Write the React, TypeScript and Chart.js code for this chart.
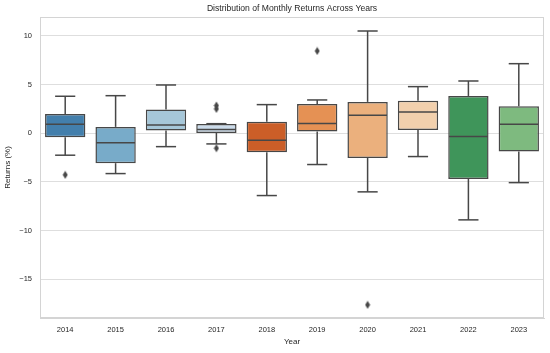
import React, { useEffect, useRef } from 'react';
import { Chart, registerables } from 'chart.js';

Chart.register(...registerables);

const years = ['2014', '2015', '2016', '2017', '2018', '2019', '2020', '2021', '2022', '2023'];
const q1 = [-0.41, -3.08, 0.27, 0.03, -1.95, 0.17, -2.54, 0.34, -4.7, -1.89];
const medians = [0.92, -0.97, 0.85, 0.37, -0.72, 0.99, 1.85, 2.19, -0.35, 0.92];
const q3 = [1.98, 0.65, 2.43, 0.96, 1.19, 3.01, 3.22, 3.35, 3.83, 2.77];
const whiskerLow = [-2.26, -4.15, -1.38, -1.1, -6.41, -3.22, -6.03, -2.4, -8.91, -5.08];
const whiskerHigh = [3.8, 3.86, 4.96, 0.98, 2.94, 3.42, 10.51, 4.79, 5.37, 7.15];
const outlierYears = ['2014', '2017', '2017', '2017', '2019', '2020'];
const outlierValues = [-4.28, 2.5, 2.85, -1.54, 8.46, -17.65];
const yTickValues = [-15, -10, -5, 0, 5, 10];
const chartTitle = 'Distribution of Monthly Returns Across Years';

const boxColors = [
  '#437fac', '#78abc9', '#a6c7d9', '#cbdbea', '#cb5e28',
  '#e59154', '#ebb07d', '#f2d0ad', '#3f955a', '#7eba7f',
];

const LINE = '#474747';
const FONT = "'Liberation Sans', Arial, sans-serif";
const TEXT = '#262626';

export default function App() {
  const ref = useRef<HTMLCanvasElement>(null);

  useEffect(() => {
    document.body.style.margin = '0';
    const canvas = ref.current;
    if (!canvas) return;

    const diamond = document.createElement('canvas');
    diamond.width = 6;
    diamond.height = 9;
    const dctx = diamond.getContext('2d')!;
    dctx.fillStyle = LINE;
    dctx.beginPath();
    dctx.moveTo(3, 0.5);
    dctx.lineTo(5.5, 4.5);
    dctx.lineTo(3, 8.5);
    dctx.lineTo(0.5, 4.5);
    dctx.closePath();
    dctx.fill();

    const frame = {
      id: 'frame',
      beforeDatasetsDraw(chart: any) {
        const { ctx, chartArea: a } = chart;
        ctx.save();
        ctx.strokeStyle = '#d4d4d4';
        ctx.lineWidth = 1;
        ctx.strokeRect(a.left + 0.5, a.top + 0.5, a.right - a.left - 1, a.bottom - a.top - 1);
        ctx.restore();
      },
      afterDraw(chart: any) {
        const { ctx, chartArea: a } = chart;
        ctx.save();
        ctx.fillStyle = TEXT;
        ctx.font = `8.6px ${FONT}`;
        ctx.textAlign = 'center';
        ctx.textBaseline = 'middle';
        ctx.fillText(chartTitle, (a.left + a.right) / 2, 9);
        ctx.restore();
      },
    };

    const whiskers = {
      id: 'whiskers',
      afterDatasetsDraw(chart: any) {
        const meta = chart.getDatasetMeta(0);
        const y = chart.scales.y;
        const ctx = chart.ctx;
        ctx.save();
        ctx.strokeStyle = LINE;
        ctx.lineWidth = 1.5;
        const seg = (x1: number, y1: number, x2: number, y2: number) => {
          ctx.beginPath();
          ctx.moveTo(x1, y1);
          ctx.lineTo(x2, y2);
          ctx.stroke();
        };
        meta.data.forEach((bar: any, i: number) => {
          const { x, width } = bar.getProps(['x', 'width'], true);
          const yMed = y.getPixelForValue(medians[i]);
          const yQ1 = y.getPixelForValue(q1[i]);
          const yQ3 = y.getPixelForValue(q3[i]);
          const yLo = y.getPixelForValue(whiskerLow[i]);
          const yHi = y.getPixelForValue(whiskerHigh[i]);
          seg(x - width / 2 + 0.75, yMed, x + width / 2 - 0.75, yMed);
          seg(x, yQ3, x, yHi);
          seg(x - width / 4, yHi, x + width / 4, yHi);
          seg(x, yQ1, x, yLo);
          seg(x - width / 4, yLo, x + width / 4, yLo);
        });
        ctx.restore();
      },
    };

    const chart = new Chart(canvas, {
      type: 'bar',
      data: {
        labels: years,
        datasets: [
          {
            type: 'bar',
            data: years.map((_, i) => [q1[i], q3[i]]) as any,
            backgroundColor: boxColors,
            borderColor: LINE,
            borderWidth: 1.5,
            borderSkipped: false,
            barPercentage: 0.8,
            categoryPercentage: 1,
          },
          {
            type: 'line',
            data: outlierYears.map((yr, i) => ({ x: yr, y: outlierValues[i] })) as any,
            showLine: false,
            pointStyle: diamond as any,
            pointRadius: 3,
            borderColor: LINE,
            backgroundColor: LINE,
          },
        ],
      },
      options: {
        animation: false,
        responsive: false,
        layout: { padding: { left: 0, right: 6, top: 17, bottom: 0 } },
        plugins: {
          legend: { display: false },
          tooltip: { enabled: false },
          title: { display: false },
        },
        scales: {
          x: {
            grid: { display: false, drawTicks: false },
            border: { display: true, color: '#d4d4d4' },
            ticks: { color: TEXT, font: { family: FONT, size: 7.5 }, padding: 7 },
            title: {
              display: true,
              text: 'Year',
              color: TEXT,
              font: { family: FONT, size: 8 },
              padding: { top: 0, bottom: 6 },
            },
            afterFit(s: any) {
              s.height = 35;
            },
          },
          y: {
            min: -19,
            max: 11.95,
            afterBuildTicks(s: any) {
              s.ticks = yTickValues.map((v) => ({ value: v }));
            },
            grid: { color: '#dedede', lineWidth: 1, drawTicks: false },
            border: { display: true, color: '#d4d4d4' },
            ticks: {
              color: TEXT,
              font: { family: FONT, size: 7.5 },
              padding: 8,
              callback: (v: any) => (Number(v) < 0 ? '\u2212' + Math.abs(Number(v)) : String(v)),
            },
            title: {
              display: true,
              text: 'Returns (%)',
              color: TEXT,
              font: { family: FONT, size: 8 },
              padding: { top: 3, bottom: 0 },
            },
            afterFit(s: any) {
              s.width = 40;
            },
          },
        },
      },
      plugins: [frame, whiskers],
    });

    return () => chart.destroy();
  }, []);

  return (
    <div style={{ width: 550, height: 353 }}>
      <canvas ref={ref} width={550} height={353} style={{ display: 'block' }} />
    </div>
  );
}
